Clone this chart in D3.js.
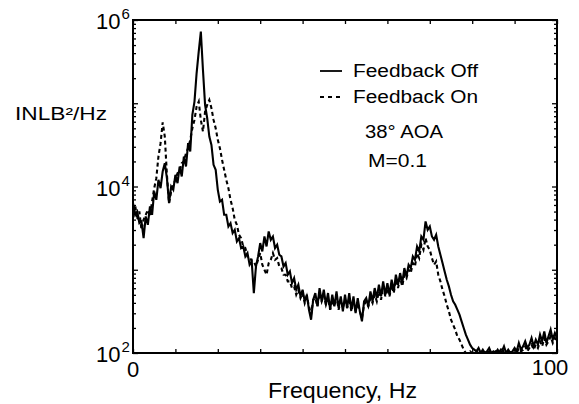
<!DOCTYPE html>
<html><head><meta charset="utf-8">
<script src="https://cdn.jsdelivr.net/npm/d3@7"></script>
<style>html,body{margin:0;padding:0;background:#fff;}svg{display:block;font-family:"Liberation Sans",Arial,Helvetica,sans-serif;}</style>
</head><body>
<script>
// Sampling grid (Hz)
const freqHz = d3.range(0, 100.5, 0.5);
// log10 of power (INLB^2/Hz), Feedback Off (solid)
const offLog10 = [
3.80,3.66,3.70,3.56,3.58,3.38,3.64,3.54,3.76,3.66,
3.94,3.84,4.08,3.98,4.18,4.28,4.10,3.80,4.00,3.96,
4.14,4.04,4.24,4.12,4.36,4.24,4.52,4.42,4.86,5.02,
5.36,5.62,5.86,5.40,4.98,4.82,4.60,4.50,4.26,4.20,
3.96,3.82,3.84,3.66,3.66,3.52,3.56,3.44,3.48,3.34,
3.38,3.26,3.28,3.16,3.20,3.06,3.10,2.72,3.04,3.16,
3.32,3.22,3.40,3.28,3.46,3.36,3.40,3.26,3.30,3.18,
3.16,3.04,3.08,2.94,2.98,2.84,2.90,2.76,2.82,2.68,
2.76,2.62,2.70,2.52,2.40,2.64,2.72,2.56,2.78,2.62,
2.76,2.58,2.72,2.52,2.70,2.56,2.74,2.54,2.68,2.50,
2.70,2.54,2.72,2.52,2.68,2.48,2.66,2.50,2.38,2.62,
2.66,2.56,2.74,2.62,2.78,2.66,2.82,2.68,2.86,2.70,
2.84,2.70,2.88,2.74,2.94,2.82,2.96,2.84,3.02,2.92,
3.06,3.02,3.16,3.12,3.28,3.22,3.40,3.36,3.58,3.48,
3.52,3.40,3.36,3.42,3.28,3.18,3.08,2.98,2.88,2.80,
2.70,2.62,2.58,2.52,2.46,2.38,2.30,2.22,2.16,2.10,
2.06,2.04,2.02,2.06,2.00,2.04,1.98,2.02,2.06,2.00,
2.02,2.00,2.04,1.98,2.02,2.08,2.00,2.04,1.98,2.02,
2.06,2.02,2.12,2.04,2.08,2.14,2.06,2.10,2.18,2.08,
2.16,2.10,2.22,2.14,2.26,2.12,2.20,2.28,2.16,2.24,
2.18];
// Feedback On (dashed)
const onLog10 = [
3.72,3.78,3.60,3.70,3.48,3.60,3.66,3.72,3.64,3.82,
3.98,4.10,4.36,4.52,4.77,4.60,4.14,3.80,3.94,4.02,
4.08,4.16,4.18,4.28,4.30,4.40,4.46,4.56,4.70,4.80,
4.96,5.02,4.80,4.66,4.90,4.98,5.04,4.94,4.80,4.70,
4.56,4.46,4.32,4.20,4.08,3.98,3.84,3.74,3.60,3.54,
3.42,3.38,3.28,3.26,3.16,3.16,3.10,3.10,3.04,3.12,
3.20,3.06,3.00,2.94,3.08,3.12,3.20,3.12,3.14,3.04,
3.02,2.94,2.94,2.86,2.86,2.78,2.80,2.70,2.76,2.66,
2.72,2.60,2.68,2.56,2.46,2.64,2.66,2.56,2.72,2.62,
2.70,2.58,2.66,2.52,2.64,2.56,2.68,2.52,2.64,2.54,
2.64,2.54,2.66,2.50,2.62,2.50,2.60,2.50,2.42,2.58,
2.62,2.56,2.66,2.60,2.70,2.62,2.74,2.64,2.80,2.68,
2.78,2.68,2.82,2.72,2.88,2.78,2.90,2.80,2.94,2.90,
3.00,2.96,3.08,3.04,3.20,3.14,3.30,3.24,3.38,3.28,
3.24,3.14,3.06,3.10,2.94,2.86,2.76,2.68,2.58,2.50,
2.40,2.34,2.28,2.20,2.16,2.10,2.04,2.00,1.98,2.02,
2.00,1.98,2.02,2.00,1.98,2.02,2.00,1.98,2.02,2.00,
2.00,2.02,1.98,2.02,2.06,2.00,2.02,2.00,1.98,2.02,
2.04,2.00,2.06,2.02,2.04,2.08,2.02,2.06,2.10,2.04,
2.10,2.06,2.14,2.08,2.18,2.10,2.14,2.20,2.12,2.18,
2.14];
const xTickValues = [0,10,20,30,40,50,60,70,80,90,100];
const xTickLabels = ["0","100"];
const yLabelExponents = [2,4,6];
const seriesNames = ["Feedback Off","Feedback On"];
const annotations = ["38°","AOA","M=0.1"];

const W = 579, H = 404;
const svg = d3.select("body").append("svg").attr("width", W).attr("height", H);
const x = d3.scaleLinear().domain([0,100]).range([133,557]);
const y = d3.scaleLog().domain([1e2,1e6]).range([353,20]);

svg.append("clipPath").attr("id","clip").append("rect")
  .attr("x",133).attr("y",20).attr("width",424).attr("height",333);

const mk = arr => freqHz.map((f,i)=>({f, v: Math.pow(10, Math.max(2, arr[i]))}));
const line = d3.line().x(d=>x(d.f)).y(d=>y(d.v));
const g = svg.append("g").attr("clip-path","url(#clip)");
g.append("path").datum(mk(onLog10)).attr("d",line)
  .attr("fill","none").attr("stroke","#000").attr("stroke-width",2.1).attr("stroke-dasharray","4,3");
g.append("path").datum(mk(offLog10)).attr("d",line)
  .attr("fill","none").attr("stroke","#000").attr("stroke-width",2.1);

// y ticks (major and minor)
const yMinor = [], yMajor = [];
for (let e=2;e<6;e++) for (let k=1;k<10;k++){ if(k===1) yMajor.push(Math.pow(10,e)); else yMinor.push(k*Math.pow(10,e)); }
yMajor.push(1e6);
function styleAxis(sel){ sel.select(".domain").remove(); sel.selectAll("text").remove(); sel.selectAll("line").attr("stroke","#000").attr("stroke-width",1.3); }
svg.append("g").attr("transform","translate(133,0)").call(d3.axisLeft(y).tickValues(yMinor).tickSize(-3)).call(styleAxis);
svg.append("g").attr("transform","translate(133,0)").call(d3.axisLeft(y).tickValues(yMajor).tickSize(-5)).call(styleAxis);
svg.append("g").attr("transform","translate(557,0)").call(d3.axisRight(y).tickValues(yMinor).tickSize(-3)).call(styleAxis);
svg.append("g").attr("transform","translate(557,0)").call(d3.axisRight(y).tickValues(yMajor).tickSize(-5)).call(styleAxis);
svg.append("g").attr("transform","translate(0,353)").call(d3.axisBottom(x).tickValues(xTickValues).tickSize(-4)).call(styleAxis);
svg.append("g").attr("transform","translate(0,20)").call(d3.axisTop(x).tickValues(xTickValues).tickSize(-4)).call(styleAxis);

// frame
svg.append("rect").attr("x",133).attr("y",20).attr("width",424).attr("height",333)
  .attr("fill","none").attr("stroke","#000").attr("stroke-width",2);

// y labels 10^n
yLabelExponents.forEach(e=>{
  const t = svg.append("text").attr("x",96).attr("y",y(Math.pow(10,e))+9)
    .attr("font-size",22).attr("fill","#000");
  t.append("tspan").text("10");
  t.append("tspan").attr("font-size",15).attr("dx",1).attr("dy",-10).text(String(e));
});
// x labels
svg.append("text").attr("x",x(0)).attr("y",377).attr("text-anchor","middle").attr("font-size",22).text(xTickLabels[0]);
svg.append("text").attr("x",x(100)-7).attr("y",375).attr("text-anchor","middle").attr("font-size",22).text(xTickLabels[1]);
// axis titles
svg.append("text").attr("x",268).attr("y",398).attr("font-size",22).attr("textLength",149).attr("lengthAdjust","spacingAndGlyphs").text("Frequency, Hz");
svg.append("text").attr("x",15).attr("y",120).attr("font-size",18).attr("textLength",92).attr("lengthAdjust","spacingAndGlyphs").text("INLB²/Hz");

// legend
svg.append("line").attr("x1",320).attr("x2",342).attr("y1",71).attr("y2",71).attr("stroke","#000").attr("stroke-width",1.8);
svg.append("line").attr("x1",320).attr("x2",342).attr("y1",97).attr("y2",97).attr("stroke","#000").attr("stroke-width",1.8).attr("stroke-dasharray","4,4");
svg.append("text").attr("x",353).attr("y",77).attr("font-size",18).attr("textLength",125).attr("lengthAdjust","spacingAndGlyphs").text(seriesNames[0]);
svg.append("text").attr("x",353).attr("y",103).attr("font-size",18).attr("textLength",125).attr("lengthAdjust","spacingAndGlyphs").text(seriesNames[1]);
// annotations
svg.append("text").attr("x",365).attr("y",138).attr("font-size",18).attr("textLength",78).attr("lengthAdjust","spacingAndGlyphs").text(annotations[0] + " " + annotations[1]);
svg.append("text").attr("x",368).attr("y",167).attr("font-size",18).attr("textLength",59).attr("lengthAdjust","spacingAndGlyphs").text(annotations[2]);
</script>
</body></html>
